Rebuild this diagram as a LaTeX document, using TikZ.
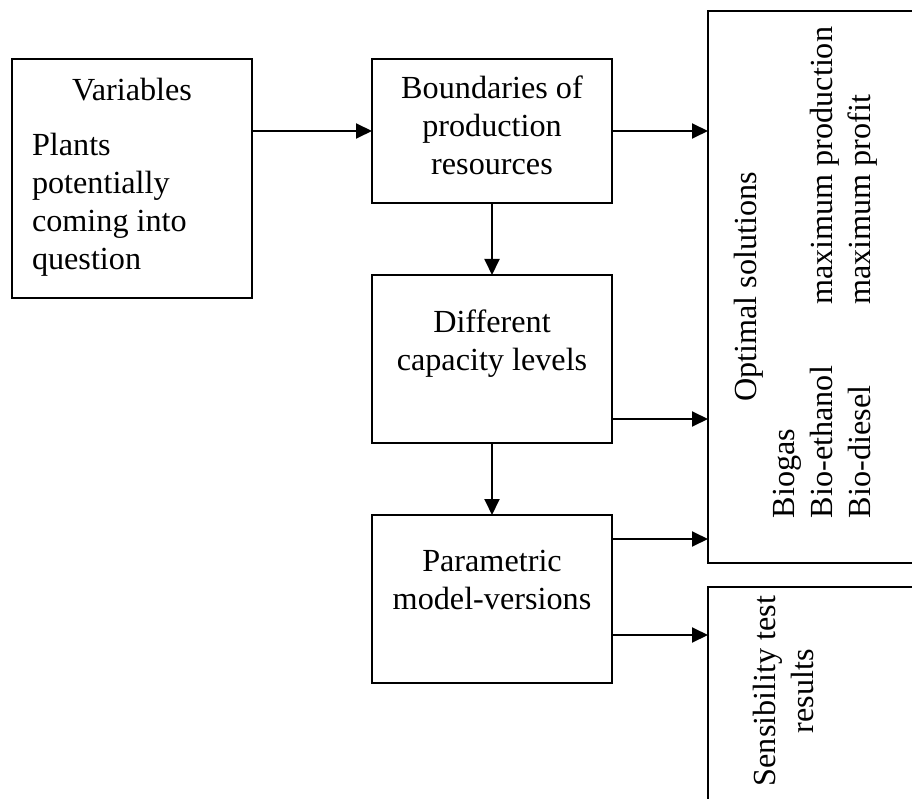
\documentclass[tikz,border=0pt]{standalone}
\usepackage{fontspec}
\setmainfont{Liberation Serif}
\usepackage{tikz}
\usetikzlibrary{arrows.meta}
\usetikzlibrary{calc}
\usetikzlibrary{positioning}

\tikzset{
  box/.style={draw, rectangle, line width=1.9pt, inner sep=0pt, outer sep=0pt},
  txt/.style={inner sep=0pt, outer sep=0pt, font=\fontsize{32.2}{38}\selectfont},
  link/.style={-{Triangle[length=16pt,width=15pt]}, line width=1.9pt}
}

\begin{document}
\begin{tikzpicture}[x=1pt, y=-1pt]
\useasboundingbox (0,0) rectangle (912,799);
\clip (0,0) rectangle (912,799);
% Variables (node)
\node[box, minimum width=240pt, minimum height=239pt] (var) at (132,178.5) {};
\node[txt, below=19pt of var.north] (vartitle) {Variables};
\node[txt, anchor=north west, align=left] (plants) at ($(var.north west)+(20,74)$)
  {Plants\\potentially\\coming into\\question};
% Middle column (nodes)
\node[box, minimum width=240pt, minimum height=144pt] (bound) at (492,131) {};
\node[box, minimum width=240pt, minimum height=168pt] (cap) at (492,359) {};
\node[box, minimum width=240pt, minimum height=168pt] (param) at (492,599) {};
\node[txt, align=center, below=17pt of bound.north] (boundtxt) {Boundaries of\\production\\resources};
\node[txt, align=center, below=35pt of cap.north] (captxt) {Different\\capacity levels};
\node[txt, align=center, below=35pt of param.north] (paramtxt) {Parametric\\model-versions};
% Results (nodes)
\node[box, minimum width=222pt, minimum height=552pt] (opt) at (819,287) {};
\node[box, minimum width=222pt, minimum height=233pt] (sens) at (819,703.5) {};
\node[txt, rotate=90, anchor=base] (opttitle) at ($(opt.west)+(48,0)$) {Optimal solutions};
\node[txt, rotate=90, anchor=base west] (optlist) at ($(opt.south west)+(86,-45)$)
  {\begin{tabular}[t]{@{}p{213pt}@{}l@{}}
   Biogas & \\
   Bio-ethanol & maximum production\\
   Bio-diesel & maximum profit
   \end{tabular}};
\node[txt, rotate=90, align=center, anchor=north] (senstxt) at ($(sens.north west)+(45,104)$)
  {Sensibility test\\results};
% Arrows
\coordinate (capout) at ([yshift=24pt]cap.south east);
\coordinate (paramout) at ([yshift=-24pt]param.north east);
\coordinate (paramtest) at ([yshift=48pt]param.south east);
\draw[link] (var.east |- bound.west) -- (bound.west);
\draw[link] (bound.east) -- (bound.east -| opt.west);
\draw[link] (bound.south) -- (cap.north);
\draw[link] (cap.south) -- (param.north);
\draw[link] (capout) -- (capout -| opt.west);
\draw[link] (paramout) -- (paramout -| opt.west);
\draw[link] (paramtest) -- (paramtest -| sens.west);
\end{tikzpicture}
\end{document}
